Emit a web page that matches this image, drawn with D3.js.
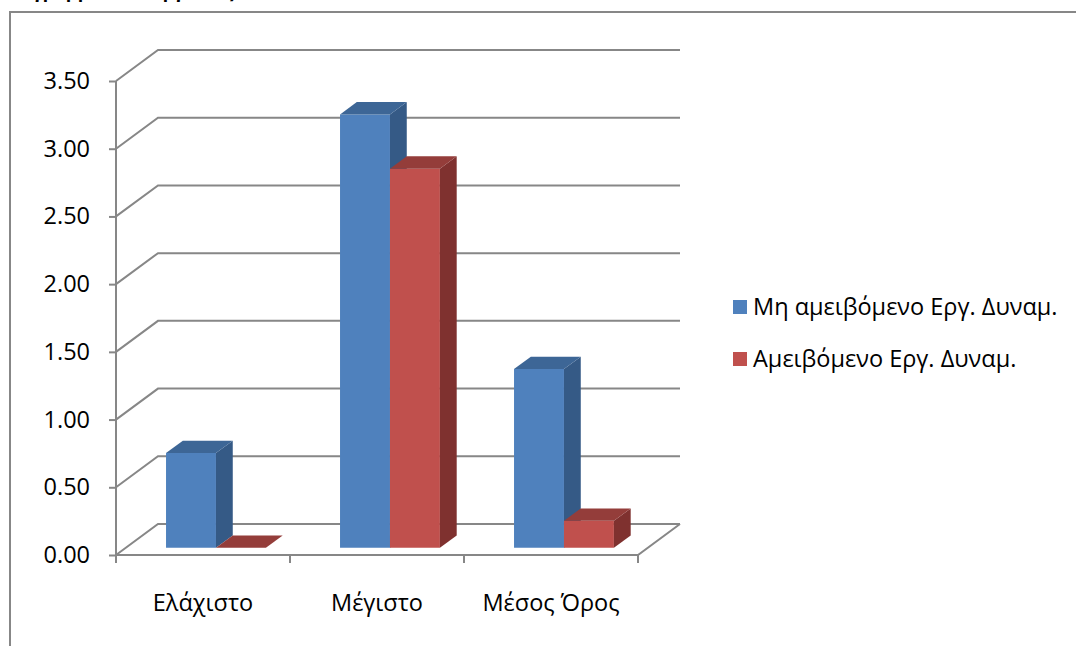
<!DOCTYPE html>
<html>
<head>
<meta charset="utf-8">
<script src="https://cdn.jsdelivr.net/npm/d3@7"></script>
<style>
  body { margin: 0; background: #fff; }
  svg text { font-family: "Open Sans", "Noto Sans", sans-serif; fill: #000; }
</style>
</head>
<body>
<svg id="chart" width="1076" height="646"></svg>
<script>
const categories = ["Ελάχιστο", "Μέγιστο", "Μέσος Όρος"];
const seriesNames = ["Μη αμειβόμενο Εργ. Δυναμ.", "Αμειβόμενο Εργ. Δυναμ."];
const unpaidValues = [0.70, 3.20, 1.32];
const paidValues = [0.00, 2.80, 0.20];
const yTicks = [0, 0.5, 1, 1.5, 2, 2.5, 3, 3.5];

const colors = [
  { front: "#4f81bd", top: "#3d6696", side: "#355a86" },
  { front: "#c0504d", top: "#943d3a", side: "#7f312f" }
];

const svg = d3.select("#chart");
const gridColor = "#878787";
const fontSize = "23.5px";

// depth of the 3d box (back wall offset)
const depthX = 42, depthY = -31;
const z0 = 0.23, z1 = 0.63; // bar depth range

const x0 = d3.scaleBand().domain(categories).range([116, 638]);
const x1 = d3.scaleBand().domain(seriesNames)
  .range([x0.bandwidth() * 0.232, x0.bandwidth() * 0.806]);
const y = d3.scaleLinear().domain([0, 3.5]).range([555, 81]);

function pt(px, v, z) {
  return [px + z * depthX, y(v) + z * depthY];
}

// outer frame
svg.append("path")
  .attr("d", "M10,646 L10,12 L1076,12")
  .attr("fill", "none")
  .attr("stroke", gridColor)
  .attr("stroke-width", 2);

// title above the frame, mostly cut off as in the source
svg.append("text")
  .attr("x", 2).attr("y", -2)
  .style("font-weight", "bold")
  .style("font-size", "18px")
  .text("Διαγράμματα Απεργεσίας");

// gridlines: left wall diagonal + back wall horizontal
const grid = svg.append("g");
yTicks.forEach(t => {
  const a = pt(x0.range()[0], t, 0), b = pt(x0.range()[0], t, 1), c = pt(x0.range()[1], t, 1);
  grid.append("path")
    .attr("d", `M${a}L${b}L${c}`)
    .attr("fill", "none")
    .attr("stroke", gridColor)
    .attr("stroke-width", 2);
});

// floor front edge and right edge
{
  const a = pt(x0.range()[0], 0, 0), b = pt(x0.range()[1], 0, 0), c = pt(x0.range()[1], 0, 1);
  grid.append("path")
    .attr("d", `M${a}L${b}L${c}`)
    .attr("fill", "none")
    .attr("stroke", gridColor)
    .attr("stroke-width", 2);
}

// y axis
const yAxis = svg.append("g")
  .attr("transform", `translate(${x0.range()[0]},0)`)
  .call(d3.axisLeft(y).tickValues(yTicks).tickFormat(d3.format(".2f"))
    .tickSize(7).tickSizeOuter(0).tickPadding(19));
yAxis.select(".domain").attr("stroke", gridColor).attr("stroke-width", 2)
  .attr("d", `M0,${y(3.5)}V${y(0) + 8}`);
yAxis.selectAll(".tick line").attr("stroke", gridColor).attr("stroke-width", 2);
yAxis.selectAll(".tick text").style("font-size", fontSize).style("font-family", "Open Sans");

// x axis: ticks on band edges, labels at band centres
const xAxis = svg.append("g");
const edges = categories.map(c => x0(c)).concat([x0.range()[1]]);
xAxis.selectAll("line").data(edges).enter().append("line")
  .attr("x1", d => d).attr("x2", d => d)
  .attr("y1", y(0)).attr("y2", y(0) + 8)
  .attr("stroke", gridColor).attr("stroke-width", 2);
xAxis.selectAll("text").data(categories).enter().append("text")
  .attr("x", d => x0(d) + x0.bandwidth() / 2)
  .attr("y", 611)
  .attr("text-anchor", "middle")
  .style("font-size", fontSize)
  .text(d => d);

// bars
const rows = [];
categories.forEach((c, i) => {
  rows.push({ cat: c, s: 0, v: unpaidValues[i] });
  rows.push({ cat: c, s: 1, v: paidValues[i] });
});

const bars = svg.append("g").selectAll("g").data(rows).enter().append("g");

bars.each(function (d) {
  const g = d3.select(this);
  const left = x0(d.cat) + x1(seriesNames[d.s]);
  const right = left + x1.bandwidth();
  const col = colors[d.s];
  const fbl = pt(left, 0, z0), fbr = pt(right, 0, z0);
  const ftl = pt(left, d.v, z0), ftr = pt(right, d.v, z0);
  const btl = pt(left, d.v, z1), btr = pt(right, d.v, z1), bbr = pt(right, 0, z1);
  // front
  g.append("path").attr("d", `M${fbl}L${fbr}L${ftr}L${ftl}Z`).attr("fill", col.front);
  // side
  g.append("path").attr("d", `M${fbr}L${bbr}L${btr}L${ftr}Z`).attr("fill", col.side);
  // top
  g.append("path").attr("d", `M${ftl}L${ftr}L${btr}L${btl}Z`).attr("fill", col.top);
});

// legend
const legend = svg.append("g").selectAll("g").data(seriesNames).enter().append("g")
  .attr("transform", (d, i) => `translate(733,${300 + i * 52})`);
legend.append("rect")
  .attr("width", 14).attr("height", 14)
  .attr("fill", (d, i) => colors[i].front);
legend.append("text")
  .attr("x", 20).attr("y", 15)
  .style("font-size", fontSize)
  .text(d => d);
</script>
</body>
</html>
